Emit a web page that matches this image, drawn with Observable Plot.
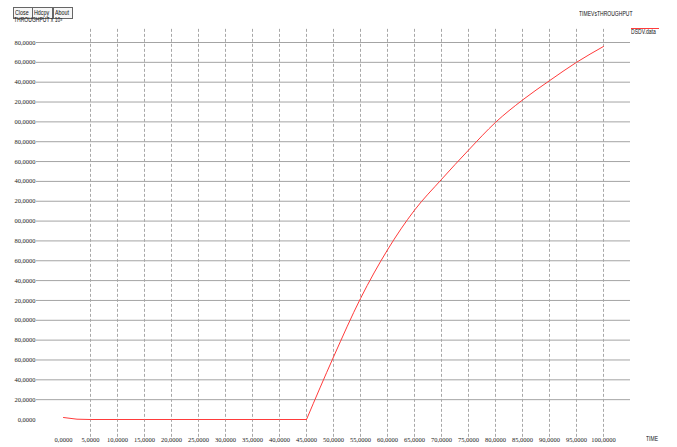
<!DOCTYPE html>
<html>
<head>
<meta charset="utf-8">
<script src="https://cdn.jsdelivr.net/npm/d3@7"></script>
<script src="https://cdn.jsdelivr.net/npm/@observablehq/plot@0.6"></script>
<style>
  html, body { margin: 0; padding: 0; background: #fff; }
  #wrap { position: relative; width: 677px; height: 447px; overflow: hidden; background: #fff; }
  #wrap svg { position: absolute; left: 0; top: 0; }
  .btn { position: absolute; top: 7px; height: 10px; border: 1px solid #666; background: #f6f6f6;
         font: 6.5px "Liberation Sans", sans-serif; line-height: 10px; color: #111; overflow: hidden;
         box-sizing: content-box; }
  .btn span { display: inline-block; transform: scaleX(0.82); transform-origin: left center; margin-left: 1px; }
  .lbl { position: absolute; font: 7px "Liberation Sans", sans-serif; color: #111; white-space: nowrap;
         transform: scaleX(0.72); transform-origin: left center; }
</style>
</head>
<body>
<div id="wrap"></div>
<script>
// ---- data ----
const seriesName = "DSDV.data";
const timeValues = [0, 2500, 5000, 10000, 15000, 20000, 25000, 30000, 35000, 40000, 45000,
                    50000, 55000, 60000, 65000, 70000, 75000, 80000, 85000, 90000, 95000, 100000];
const throughputValues = [2, 0.3, 0, 0, 0, 0, 0, 0, 0, 0, 0,
                          63, 122, 171, 211, 242, 271.5, 299.5, 322, 341.5, 360, 376];

const xTicks = [0, 5000, 10000, 15000, 20000, 25000, 30000, 35000, 40000, 45000, 50000,
                55000, 60000, 65000, 70000, 75000, 80000, 85000, 90000, 95000, 100000];
const xTickLabels = ["0,0000", "5,0000", "10,0000", "15,0000", "20,0000", "25,0000", "30,0000",
                     "35,0000", "40,0000", "45,0000", "50,0000", "55,0000", "60,0000", "65,0000",
                     "70,0000", "75,0000", "80,0000", "85,0000", "90,0000", "95,0000", "100,0000"];
const yTicks = [0, 20, 40, 60, 80, 100, 120, 140, 160, 180, 200, 220, 240, 260, 280, 300, 320, 340, 360, 380];
const yTickLabels = ["0,0000", "20,0000", "40,0000", "60,0000", "80,0000", "00,0000", "20,0000",
                     "40,0000", "60,0000", "80,0000", "00,0000", "20,0000", "40,0000", "60,0000",
                     "80,0000", "00,0000", "20,0000", "40,0000", "60,0000", "80,0000"];

const titleText = "TIMEVsTHROUGHPUT";
const yAxisText = "THROUGHPUT x 10\u00b3";
const xAxisText = "TIME";
const buttons = ["Close", "Hdcpy", "About"];

// ---- build ----
const data = timeValues.map((t, i) => ({time: t, throughput: throughputValues[i]}));
const flatPart = data.filter(d => d.time <= 45000);
const risePart = data.filter(d => d.time >= 45000);
const xLabelMap = new Map(xTicks.map((v, i) => [v, xTickLabels[i]]));
const yLabelMap = new Map(yTicks.map((v, i) => [v, yTickLabels[i]]));

const chart = Plot.plot({
  width: 677,
  height: 447,
  marginLeft: 63,
  marginRight: 74,
  marginTop: 42,
  marginBottom: 28,
  style: {background: "transparent", fontFamily: "'Liberation Serif', serif", fontSize: "6.5px", color: "#222"},
  x: {domain: [0, 100000]},
  y: {domain: [0, 380]},
  marks: [
    Plot.ruleY(yTicks.filter(d => d > 0), {x1: -5000, x2: 105000, stroke: "#a4a4a4", strokeWidth: 1, strokeOpacity: 1}),
    Plot.ruleX(xTicks.filter(d => d > 0), {y1: -18, y2: 394, stroke: "#a8a8a8", strokeWidth: 1, strokeDasharray: "3,2", strokeOpacity: 1}),
    Plot.axisY({ticks: yTicks, tickSize: 0, tickPadding: 28, tickFormat: d => yLabelMap.get(d), label: null}),
    Plot.axisX({ticks: xTicks, tickSize: 0, tickPadding: 18, tickFormat: d => xLabelMap.get(d), label: null}),
    Plot.line(flatPart, {x: "time", y: "throughput", stroke: "#ff3b3b", strokeWidth: 1}),
    Plot.line(risePart, {x: "time", y: "throughput", stroke: "#ff3b3b", strokeWidth: 1, curve: "monotone-x"})
  ]
});

const wrap = document.getElementById("wrap");
wrap.appendChild(chart);

// buttons
const btnLeft = [13, 32, 53];
const btnWidth = [18, 19, 18];
buttons.forEach((b, i) => {
  const el = document.createElement("div");
  el.className = "btn";
  el.style.left = btnLeft[i] + "px";
  el.style.width = btnWidth[i] + "px";
  const s = document.createElement("span");
  s.textContent = b;
  el.appendChild(s);
  wrap.appendChild(el);
});

function addLabel(text, left, top) {
  const el = document.createElement("div");
  el.className = "lbl";
  el.style.left = left + "px";
  el.style.top = top + "px";
  el.textContent = text;
  wrap.appendChild(el);
  return el;
}
addLabel(yAxisText, 14, 16);
addLabel(titleText, 579, 10);
addLabel(seriesName, 631, 28);
addLabel(xAxisText, 646, 435);

// legend swatch
const sw = document.createElement("div");
sw.style.cssText = "position:absolute;left:631px;top:28px;width:28px;height:1px;background:#ff3b3b;";
wrap.appendChild(sw);
</script>
</body>
</html>
